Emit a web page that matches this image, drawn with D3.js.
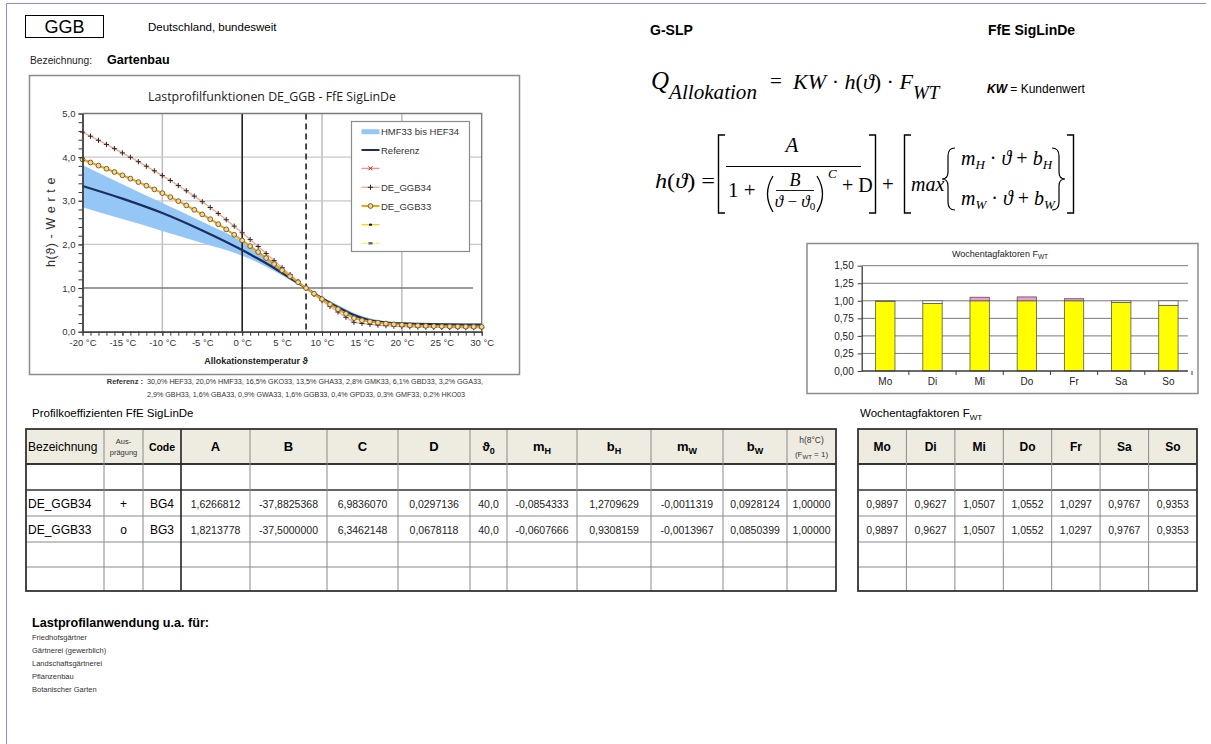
<!DOCTYPE html>
<html><head><meta charset="utf-8">
<script src="https://cdn.jsdelivr.net/npm/d3@7"></script>
<style>
body{margin:0;background:#fff;}
svg{display:block;font-family:"Liberation Sans",Arial,sans-serif;}
</style></head><body>
<svg id="c" width="1211" height="744"></svg>
<script>
// ---------------- DATA ----------------
const temps = [-20,-19,-18,-17,-16,-15,-14,-13,-12,-11,-10,-9,-8,-7,-6,-5,-4,-3,-2,-1,0,1,2,3,4,5,6,7,8,9,10,11,12,13,14,15,16,17,18,19,20,21,22,23,24,25,26,27,28,29,30];
const ggb34 = [4.573,4.480,4.386,4.291,4.195,4.097,3.997,3.896,3.792,3.686,3.577,3.465,3.349,3.230,3.107,2.979,2.846,2.708,2.566,2.419,2.267,2.111,1.952,1.791,1.629,1.468,1.308,1.152,1.000,0.854,0.713,0.579,0.451,0.330,0.216,0.190,0.169,0.152,0.138,0.127,0.118,0.112,0.107,0.103,0.099,0.097,0.095,0.093,0.091,0.090,0.089];
const ggb33 = [3.948,3.877,3.806,3.734,3.660,3.584,3.507,3.428,3.346,3.262,3.175,3.085,2.992,2.895,2.793,2.688,2.578,2.464,2.345,2.221,2.093,1.961,1.826,1.688,1.549,1.409,1.270,1.134,1.000,0.871,0.747,0.628,0.516,0.410,0.310,0.261,0.232,0.207,0.187,0.170,0.158,0.148,0.139,0.133,0.127,0.123,0.120,0.117,0.115,0.113,0.111];
const refTemps  = [-20,-15,-10,-5,0,2,4,6,8,10,12,14,16,18,20,25,30];
const refValues = [3.34,3.05,2.72,2.32,1.87,1.67,1.46,1.23,1.00,0.77,0.56,0.38,0.26,0.21,0.19,0.17,0.16];
const bandHigh  = [3.82,3.38,2.95,2.52,2.07,1.85,1.59,1.31,1.00,0.80,0.61,0.43,0.31,0.24,0.21,0.19,0.18];
const bandLow   = [2.85,2.58,2.31,2.03,1.74,1.58,1.39,1.18,1.00,0.74,0.50,0.33,0.22,0.17,0.15,0.13,0.13];
const xTickTemps = [-20,-15,-10,-5,0,5,10,15,20,25,30];
const xTickLabels = ["-20 °C","-15 °C","-10 °C","-5 °C","0 °C","5 °C","10 °C","15 °C","20 °C","25 °C","30 °C"];
const yTickValues = [0,1,2,3,4,5];
const yTickLabels = ["0,0","1,0","2,0","3,0","4,0","5,0"];
const legendLabels = ["HMF33 bis HEF34","Referenz","","DE_GGB34","DE_GGB33","",""];

const weekdays = ["Mo","Di","Mi","Do","Fr","Sa","So"];
const weekdayFactors = [0.9897,0.9627,1.0507,1.0552,1.0297,0.9767,0.9353];
const fwtTickValues = [0,0.25,0.5,0.75,1,1.25,1.5];
const fwtTickLabels = ["0,00","0,25","0,50","0,75","1,00","1,25","1,50"];

const profileNames = ["DE_GGB34","DE_GGB33"];
const profileForms = ["+","o"];
const profileCodes = ["BG4","BG3"];
const paramA = [1.6266812,1.8213778];
const paramB = [-37.8825368,-37.5000000];
const paramC = [6.9836070,6.3462148];
const paramD = [0.0297136,0.0678118];
const paramTheta0 = [40.0,40.0];
const paramMH = [-0.0854333,-0.0607666];
const paramBH = [1.2709629,0.9308159];
const paramMW = [-0.0011319,-0.0013967];
const paramBW = [0.0928124,0.0850399];
const paramH8 = [1.00000,1.00000];
const profileFwt = [[0.9897,0.9627,1.0507,1.0552,1.0297,0.9767,0.9353],[0.9897,0.9627,1.0507,1.0552,1.0297,0.9767,0.9353]];

const referenceLine1 = "30,0% HEF33, 20,0% HMF33, 16,5% GKO33, 13,5% GHA33, 2,8% GMK33, 6,1% GBD33, 3,2% GGA33,";
const referenceLine2 = "2,9% GBH33, 1,6% GBA33, 0,9% GWA33, 1,6% GGB33, 0,4% GPD33, 0,3% GMF33, 0,2% HKO03";
const applications = ["Friedhofsgärtner","Gärtnerei (gewerblich)","Landschaftsgärtnerei","Pflanzenbau","Botanischer Garten"];

// ---------------- HELPERS ----------------
const svg = d3.select("#c");
const SERIF = "'Liberation Serif','Times New Roman',serif";
function txt(x,y,str,o={}){
  const t = svg.append("text").attr("x",x).attr("y",y)
    .attr("font-size",o.size||12).attr("fill",o.fill||"#000")
    .attr("text-anchor",o.anchor||"start");
  if(o.weight) t.attr("font-weight",o.weight);
  if(o.style) t.attr("font-style",o.style);
  if(o.family) t.attr("font-family",o.family);
  if(o.len) t.attr("textLength",o.len).attr("lengthAdjust","spacingAndGlyphs");
  if(o.html) t.html(str); else t.text(str);
  return t;
}
const fmt = (v,d)=>v.toFixed(d).replace(".",",");

// ---------------- PAGE ----------------
svg.append("path").attr("d","M6.5,744 V3.5 H1206").attr("fill","none").attr("stroke","#8a8ad8").attr("stroke-width",1);

svg.append("rect").attr("x",25.5).attr("y",15.5).attr("width",78).attr("height",22).attr("fill","none").attr("stroke","#000").attr("stroke-width",1);
txt(64.5,33,"GGB",{size:18,anchor:"middle"});
txt(148,31,"Deutschland, bundesweit",{size:11.5});
txt(30,64,"Bezeichnung:",{size:10,fill:"#222",len:62});
txt(107,64,"Gartenbau",{size:12.5,weight:"bold"});
txt(650,35,"G-SLP",{size:14,weight:"bold"});
txt(988,35,"FfE SigLinDe",{size:14,weight:"bold"});

// ---------------- MAIN CHART ----------------
svg.append("rect").attr("x",29.5).attr("y",75.5).attr("width",490).attr("height",299).attr("fill","#fff").attr("stroke","#8c8c8c").attr("stroke-width",1.5);
txt(272,101,"Lastprofilfunktionen DE_GGB  -  FfE SigLinDe",{size:13.5,anchor:"middle",fill:"#222",family:"'Open Sans','Liberation Sans',sans-serif",len:248});

const cx = d3.scaleLinear().domain([-20,30]).range([82.5,481.7]);
const cy = d3.scaleLinear().domain([0,5]).range([331.7,113.5]);
const g = svg.append("g");

// gridlines
[-10,10,20].forEach(v=>g.append("line").attr("x1",cx(v)).attr("x2",cx(v)).attr("y1",cy(5)).attr("y2",cy(0)).attr("stroke","#bdbdbd").attr("stroke-width",1.5));
[2,3,4].forEach(v=>g.append("line").attr("x1",cx(-20)).attr("x2",cx(30)).attr("y1",cy(v)).attr("y2",cy(v)).attr("stroke","#c8c8c8").attr("stroke-width",1.2));

// band
const band = refTemps.map((t,i)=>({t,hi:bandHigh[i],lo:bandLow[i],v:refValues[i]}));
g.append("path").datum(band).attr("fill","#94c6f6")
  .attr("d",d3.area().x(d=>cx(d.t)).y0(d=>cy(d.lo)).y1(d=>cy(d.hi)).curve(d3.curveMonotoneX));

g.append("line").attr("x1",cx(-20)).attr("x2",cx(28.9)).attr("y1",cy(1)).attr("y2",cy(1)).attr("stroke","#7a7a7a").attr("stroke-width",1.5);
g.append("line").attr("x1",cx(0)).attr("x2",cx(0)).attr("y1",cy(5)).attr("y2",cy(0)).attr("stroke","#111").attr("stroke-width",1.5);
g.append("line").attr("x1",cx(8)).attr("x2",cx(8)).attr("y1",cy(5)).attr("y2",cy(0)).attr("stroke","#111").attr("stroke-width",1.5).attr("stroke-dasharray","6,4");
g.append("path").attr("d",`M${cx(-20)},${cy(5)} H${cx(30)} V${cy(0)}`).attr("fill","none").attr("stroke","#7a7a7a").attr("stroke-width",1.3);

// reference line
g.append("path").datum(band).attr("fill","none").attr("stroke","#1b2f5f").attr("stroke-width",2.2)
  .attr("d",d3.line().x(d=>cx(d.t)).y(d=>cy(d.v)).curve(d3.curveMonotoneX));

// series
const s34 = temps.map((t,i)=>({t,v:ggb34[i]}));
const s33 = temps.map((t,i)=>({t,v:ggb33[i]}));
g.append("path").datum(s34).attr("fill","none").attr("stroke","#f1a589").attr("stroke-width",1.3)
  .attr("d",d3.line().x(d=>cx(d.t)).y(d=>cy(d.v)));
g.append("g").selectAll("path").data(s34).join("path")
  .attr("d",d=>{const x=cx(d.t),y=cy(d.v);return `M${x-2.6},${y}H${x+2.6}M${x},${y-2.6}V${y+2.6}`;})
  .attr("stroke","#2a2a2a").attr("stroke-width",1);
g.append("path").datum(s33).attr("fill","none").attr("stroke","#f2a300").attr("stroke-width",2)
  .attr("d",d3.line().x(d=>cx(d.t)).y(d=>cy(d.v)));
g.append("g").selectAll("circle").data(s33).join("circle")
  .attr("cx",d=>cx(d.t)).attr("cy",d=>cy(d.v)).attr("r",2.4)
  .attr("fill","#f3d79a").attr("stroke","#6b5326").attr("stroke-width",0.9);

// axes
const axStyle = sel=>{sel.select(".domain").attr("stroke","#3a3a3a").attr("stroke-width",1.3);sel.selectAll(".tick line").attr("stroke","#3a3a3a");};
const yMinor = svg.append("g").attr("transform",`translate(${cx(-20)},0)`)
  .call(d3.axisLeft(cy).tickValues(d3.range(0,5.01,0.2)).tickSize(4).tickFormat("").tickSizeOuter(0));
axStyle(yMinor);
const yMajor = svg.append("g").attr("transform",`translate(${cx(-20)},0)`)
  .call(d3.axisLeft(cy).tickValues(yTickValues).tickSize(4).tickPadding(3).tickFormat((d,i)=>yTickLabels[i]).tickSizeOuter(0));
axStyle(yMajor);
yMajor.selectAll("text").attr("font-size",9.5).attr("fill","#333").attr("font-family","'Liberation Sans',Arial");
const xMinor = svg.append("g").attr("transform",`translate(0,${cy(0)})`)
  .call(d3.axisBottom(cx).tickValues(temps).tickSize(4).tickFormat("").tickSizeOuter(0));
axStyle(xMinor);
const xMajor = svg.append("g").attr("transform",`translate(0,${cy(0)})`)
  .call(d3.axisBottom(cx).tickValues(xTickTemps).tickSize(4).tickPadding(4).tickFormat((d,i)=>xTickLabels[i]).tickSizeOuter(0));
axStyle(xMajor);
xMajor.selectAll("text").attr("font-size",9.5).attr("fill","#333").attr("font-family","'Liberation Sans',Arial");

txt(0,0,"h(ϑ) - W e r t e",{size:12.5,anchor:"middle",fill:"#333"}).attr("transform","translate(55,222) rotate(-90)").attr("letter-spacing",0.6);
txt(256,364,"Allokationstemperatur  ϑ",{size:9,anchor:"middle",weight:"bold",fill:"#222"});

// legend
svg.append("rect").attr("x",351.5).attr("y",121.5).attr("width",118).attr("height",130).attr("fill","#fff").attr("stroke","#8c8c8c").attr("stroke-width",1.2);
const ly = [131.7,150,168.3,187.3,206,224.7,243.3];
const lx1=361.5, lx2=379.5, lxm=370.5;
const L = svg.append("g");
L.append("line").attr("x1",lx1).attr("x2",lx2).attr("y1",ly[0]).attr("y2",ly[0]).attr("stroke","#94c6f6").attr("stroke-width",5);
L.append("line").attr("x1",lx1).attr("x2",lx2).attr("y1",ly[1]).attr("y2",ly[1]).attr("stroke","#1b2f5f").attr("stroke-width",2);
L.append("line").attr("x1",lx1).attr("x2",lx2).attr("y1",ly[2]).attr("y2",ly[2]).attr("stroke","#f07070").attr("stroke-width",1);
L.append("path").attr("d",`M${lxm-2},${ly[2]-2}L${lxm+2},${ly[2]+2}M${lxm-2},${ly[2]+2}L${lxm+2},${ly[2]-2}`).attr("stroke","#c02020").attr("stroke-width",1);
L.append("line").attr("x1",lx1).attr("x2",lx2).attr("y1",ly[3]).attr("y2",ly[3]).attr("stroke","#f1a589").attr("stroke-width",1.3);
L.append("path").attr("d",`M${lxm-2.6},${ly[3]}H${lxm+2.6}M${lxm},${ly[3]-2.6}V${ly[3]+2.6}`).attr("stroke","#2a2a2a").attr("stroke-width",1);
L.append("line").attr("x1",lx1).attr("x2",lx2).attr("y1",ly[4]).attr("y2",ly[4]).attr("stroke","#f2a300").attr("stroke-width",2);
L.append("circle").attr("cx",lxm).attr("cy",ly[4]).attr("r",2.4).attr("fill","#f3d79a").attr("stroke","#6b5326").attr("stroke-width",0.9);
L.append("line").attr("x1",lx1).attr("x2",lx2).attr("y1",ly[5]).attr("y2",ly[5]).attr("stroke","#f5d000").attr("stroke-width",1.2);
L.append("rect").attr("x",lxm-1.5).attr("y",ly[5]-1).attr("width",3).attr("height",2).attr("fill","#111");
L.append("line").attr("x1",lx1).attr("x2",lx2).attr("y1",ly[6]).attr("y2",ly[6]).attr("stroke","#f8f070").attr("stroke-width",1.2);
L.append("rect").attr("x",lxm-2).attr("y",ly[6]-1.2).attr("width",4).attr("height",2.4).attr("fill","#666");
legendLabels.forEach((s,i)=>{ if(s) txt(381,ly[i]+3.5,s,{size:9.5,fill:"#333"}); });

// reference text
txt(143,384,"Referenz :",{size:7.5,weight:"bold",anchor:"end",fill:"#333"});
txt(147,384,referenceLine1,{size:7.5,fill:"#333",len:336});
txt(147,397,referenceLine2,{size:7.5,fill:"#333",len:318});

// ---------------- FORMULAS ----------------
txt(651,89,"Q",{size:25,style:"italic",family:SERIF});
txt(669,99,"Allokation",{size:21,style:"italic",family:SERIF,len:88});
txt(770,88,"=",{size:21,family:SERIF});
txt(793,89,"<tspan font-style='italic'>KW</tspan> · <tspan font-style='italic'>h</tspan>(<tspan font-style='italic'>ϑ</tspan>) · <tspan font-style='italic'>F</tspan>",{size:22,family:SERIF,html:true,len:120});
txt(913,99,"WT",{size:19,style:"italic",family:SERIF});
txt(987,93,"<tspan font-weight='bold' font-style='italic'>KW</tspan> = Kundenwert",{size:12,html:true});

const F = svg.append("g").attr("stroke","#000").attr("fill","none").attr("stroke-width",1.4);
txt(655,188,"<tspan font-style='italic'>h</tspan>(<tspan font-style='italic'>ϑ</tspan>) =",{size:21,family:SERIF,html:true,len:60});
F.append("path").attr("d","M725,135 H718.5 V213 H725");
txt(792,152,"A",{size:21,style:"italic",family:SERIF,anchor:"middle"});
F.append("line").attr("x1",726).attr("x2",861).attr("y1",166.5).attr("y2",166.5).attr("stroke-width",1);
txt(728,197,"1 +",{size:21,family:SERIF});
F.append("path").attr("d","M773,176 Q762,194 773,212").attr("stroke-width",1.3);
F.append("path").attr("d","M817,176 Q828,194 817,212").attr("stroke-width",1.3);
txt(795,186,"B",{size:18,style:"italic",family:SERIF,anchor:"middle"});
F.append("line").attr("x1",776).attr("x2",814).attr("y1",190.5).attr("y2",190.5).attr("stroke-width",0.9);
txt(795,207,"<tspan font-style='italic'>ϑ</tspan> − <tspan font-style='italic'>ϑ</tspan><tspan font-size='11' dy='3'>0</tspan>",{size:17,family:SERIF,anchor:"middle",html:true});
txt(828,178,"C",{size:13,style:"italic",family:SERIF});
txt(842,192,"+ D",{size:20,family:SERIF});
F.append("path").attr("d","M869,135 H875.5 V213 H869");
txt(882,191,"+",{size:21,family:SERIF});
F.append("path").attr("d","M911,135 H904.5 V213 H911");
txt(911,191,"max",{size:20,style:"italic",family:SERIF});
F.append("path").attr("d","M955,148 Q948,148 948,156 L948,172 Q948,179 942,179 Q948,179 948,186 L948,202 Q948,210 955,210").attr("stroke-width",1.2);
txt(961,165,"<tspan font-style='italic'>m</tspan><tspan font-size='13' dy='4' font-style='italic'>H</tspan><tspan dy='-4'> · </tspan><tspan font-style='italic'>ϑ</tspan> + <tspan font-style='italic'>b</tspan><tspan font-size='13' dy='4' font-style='italic'>H</tspan>",{size:20,family:SERIF,html:true});
txt(961,205,"<tspan font-style='italic'>m</tspan><tspan font-size='13' dy='4' font-style='italic'>W</tspan><tspan dy='-4'> · </tspan><tspan font-style='italic'>ϑ</tspan> + <tspan font-style='italic'>b</tspan><tspan font-size='13' dy='4' font-style='italic'>W</tspan>",{size:20,family:SERIF,html:true});
F.append("path").attr("d","M1052,148 Q1059,148 1059,156 L1059,172 Q1059,179 1065,179 Q1059,179 1059,186 L1059,202 Q1059,210 1052,210").attr("stroke-width",1.2);
F.append("path").attr("d","M1067,135 H1073.5 V213 H1067");

// ---------------- WEEKDAY CHART ----------------
svg.append("rect").attr("x",807).attr("y",243.5).attr("width",391).attr("height",150).attr("fill","#fff").attr("stroke","#8c8c8c").attr("stroke-width",1.5);
txt(1000,257,"Wochentagfaktoren   F<tspan font-size='6.5' dy='2'>WT</tspan>",{size:9,anchor:"middle",html:true,fill:"#222"});
const xw = d3.scaleBand().domain(weekdays).range([861.7,1192]).paddingInner(0.59).paddingOuter(0.295);
const yw = d3.scaleLinear().domain([0,1.5]).range([371,265.7]);
const W = svg.append("g");
fwtTickValues.forEach(v=>{ if(v>0) W.append("line").attr("x1",861.7).attr("x2",1188).attr("y1",yw(v)).attr("y2",yw(v)).attr("stroke","#7a7a7a").attr("stroke-width",1); });
weekdays.forEach((d,i)=>{
  const v = weekdayFactors[i], x = xw(d), bw = xw.bandwidth();
  const base = Math.min(v,1);
  W.append("rect").attr("x",x).attr("y",yw(base)).attr("width",bw).attr("height",yw(0)-yw(base)).attr("fill","#ffff00").attr("stroke","#555").attr("stroke-width",0.8);
  if(v<1) W.append("rect").attr("x",x).attr("y",yw(1)).attr("width",bw).attr("height",yw(v)-yw(1)).attr("fill","#fff").attr("stroke","#555").attr("stroke-width",0.8);
  if(v>1) W.append("rect").attr("x",x).attr("y",yw(v)).attr("width",bw).attr("height",yw(1)-yw(v)).attr("fill","#f29ad8").attr("stroke","#555").attr("stroke-width",0.8);
});
const wy = svg.append("g").attr("transform","translate(861.7,0)")
  .call(d3.axisLeft(yw).tickValues(fwtTickValues).tickSize(4).tickPadding(4).tickFormat((d,i)=>fwtTickLabels[i]).tickSizeOuter(0));
axStyle(wy);
wy.selectAll("text").attr("font-size",10).attr("fill","#222").attr("font-family","'Liberation Sans',Arial");
const wx = svg.append("g").attr("transform","translate(0,371)")
  .call(d3.axisBottom(xw).tickSize(0).tickPadding(7).tickSizeOuter(0));
axStyle(wx);
wx.select(".domain").attr("d","M861.7,0H1188");
wx.selectAll("text").attr("font-size",10).attr("fill","#222").attr("font-family","'Liberation Sans',Arial");
weekdays.forEach((d,i)=>{ const xb = xw(d)-xw.step()*xw.paddingInner()/2 + xw.step(); W.append("line").attr("x1",xb).attr("x2",xb).attr("y1",371).attr("y2",375).attr("stroke","#3a3a3a"); });

// ---------------- TABLES ----------------
txt(32,417,"Profilkoeffizienten FfE SigLinDe",{size:11.5});
txt(860,417,"Wochentagfaktoren F<tspan font-size='8' dy='3'>WT</tspan>",{size:11.5,html:true});

const ys = [429,464,490,516,542,567,591];
const xsL = [26,104,143,181,250,327,398,470,507,577,651,723,787,836];
const xsR = [858,906.4,954.9,1003.3,1051.7,1100.1,1148.6,1197];
const T = svg.append("g");
function tableGrid(xs, thickCols){
  T.append("rect").attr("x",xs[0]).attr("y",ys[0]).attr("width",xs[xs.length-1]-xs[0]).attr("height",ys[1]-ys[0]).attr("fill","#eeece1");
  for(let r=2;r<ys.length-1;r++) T.append("line").attr("x1",xs[0]).attr("x2",xs[xs.length-1]).attr("y1",ys[r]).attr("y2",ys[r]).attr("stroke",r===2?"#333":"#8a8a8a").attr("stroke-width",r===2?1.6:1);
  T.append("line").attr("x1",xs[0]).attr("x2",xs[xs.length-1]).attr("y1",ys[1]).attr("y2",ys[1]).attr("stroke","#333").attr("stroke-width",1.8);
  for(let c=1;c<xs.length-1;c++){
    const thick = thickCols.includes(c);
    T.append("line").attr("x1",xs[c]).attr("x2",xs[c]).attr("y1",ys[0]).attr("y2",ys[ys.length-1]).attr("stroke",thick?"#222":"#8a8a8a").attr("stroke-width",thick?1.6:1);
  }
  T.append("rect").attr("x",xs[0]).attr("y",ys[0]).attr("width",xs[xs.length-1]-xs[0]).attr("height",ys[ys.length-1]-ys[0]).attr("fill","none").attr("stroke","#333").attr("stroke-width",1.8);
}
tableGrid(xsL,[3]);
tableGrid(xsR,[]);
const midX = (xs,c)=>(xs[c]+xs[c+1])/2;
const hy = (ys[0]+ys[1])/2+4.5;
txt(28,hy,"Bezeichnung",{size:12});
txt(midX(xsL,1),444,"Aus-",{size:7.5,anchor:"middle",fill:"#333"});
txt(midX(xsL,1),455,"prägung",{size:7.5,anchor:"middle",fill:"#333"});
txt(midX(xsL,2),hy,"Code",{size:10.5,weight:"bold",anchor:"middle"});
["A","B","C","D"].forEach((s,i)=>txt(midX(xsL,3+i),hy,s,{size:13,weight:"bold",anchor:"middle"}));
txt(midX(xsL,7),hy,"ϑ<tspan font-size='9' dy='3'>0</tspan>",{size:13,weight:"bold",anchor:"middle",html:true});
[["m","H"],["b","H"],["m","W"],["b","W"]].forEach((p,i)=>txt(midX(xsL,8+i),hy,`${p[0]}<tspan font-size='9' dy='3'>${p[1]}</tspan>`,{size:13,weight:"bold",anchor:"middle",html:true}));
txt(midX(xsL,12),443,"h(8°C)",{size:8.5,anchor:"middle",fill:"#333"});
txt(midX(xsL,12),457,"(F<tspan font-size='6' dy='2'>WT</tspan><tspan dy='-2'> = 1)</tspan>",{size:8,anchor:"middle",fill:"#333",html:true});
weekdays.forEach((d,i)=>txt(midX(xsR,i),hy,d,{size:12,weight:"bold",anchor:"middle"}));

profileNames.forEach((name,r)=>{
  const yb = (ys[2+r]+ys[3+r])/2+4.5;
  txt(28,yb,name,{size:12});
  txt(midX(xsL,1),yb,profileForms[r],{size:12,anchor:"middle"});
  txt(midX(xsL,2),yb,profileCodes[r],{size:12,anchor:"middle"});
  const vals = [fmt(paramA[r],7),fmt(paramB[r],7),fmt(paramC[r],7),fmt(paramD[r],7),fmt(paramTheta0[r],1),fmt(paramMH[r],7),fmt(paramBH[r],7),fmt(paramMW[r],7),fmt(paramBW[r],7),fmt(paramH8[r],5)];
  vals.forEach((s,i)=>txt(midX(xsL,3+i),yb,s,{size:10.5,anchor:"middle",fill:"#222"}));
  profileFwt[r].forEach((v,i)=>txt(midX(xsR,i),yb,fmt(v,4),{size:10.5,anchor:"middle",fill:"#222"}));
});

// ---------------- APPLICATIONS ----------------
txt(32,627,"Lastprofilanwendung u.a. für:",{size:12,weight:"bold",len:177});
applications.forEach((s,i)=>txt(32,640+i*12.9,s,{size:7.5,fill:"#333"}));
</script>
</body></html>
